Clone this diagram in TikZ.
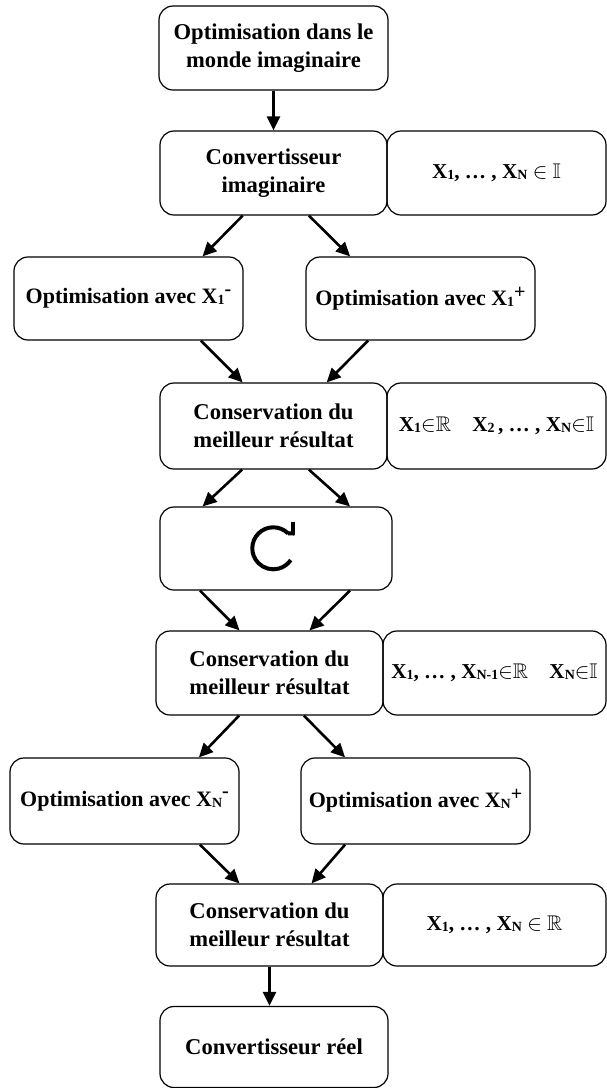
\documentclass[tikz,border=0pt]{standalone}
\usepackage{amssymb}
\usepackage{fontspec}
\setmainfont{Liberation Serif}
\usetikzlibrary{arrows.meta}
\newcommand\Xv[1]{X\raisebox{-0.4pt}{\fontsize{7}{7}\selectfont #1}}
\newcommand\supm{\raisebox{4.2pt}{\fontsize{10}{10}\selectfont -}}
\newcommand\supp{\raisebox{3.6pt}{\fontsize{10}{10}\selectfont +}}
\tikzset{
  box/.style={draw, rounded corners=7pt, line width=0.6pt, align=center, inner sep=0pt, font=\bfseries\fontsize{11.3}{14}\selectfont},
  rbox/.style={box, font=\bfseries\fontsize{10.6}{13}\selectfont},
  arr/.style={line width=1.3pt, -{Triangle[length=7pt,width=6.5pt]}},
}
\begin{document}
\begin{tikzpicture}[x=0.5pt,y=-0.5pt]
\useasboundingbox (0,0) rectangle (606,1088);
% nodes
\node[box, minimum width=114.5pt, minimum height=42pt] (A) at (273.5,48) {Optimisation dans le\\monde imaginaire};
\node[box, minimum width=113.5pt, minimum height=42pt] (B) at (273.5,173) {Convertisseur\\imaginaire};
\node[rbox, minimum width=109.5pt, minimum height=42pt] (Br) at (496.5,173) {\Xv{1}, \dots\ , \Xv{N} $\in$ $\mathbb{I}$};
\node[box, font=\bfseries\fontsize{11}{13}\selectfont, minimum width=114.5pt, minimum height=41.5pt] (C1) at (128.5,298.5) {Optimisation avec \Xv{1}\supm};
\node[box, font=\bfseries\fontsize{11}{13}\selectfont, minimum width=114.5pt, minimum height=41.5pt] (C2) at (420.5,298.5) {Optimisation avec \Xv{1}\supp};
\node[box, minimum width=113.5pt, minimum height=43pt] (D) at (273.5,426) {Conservation du\\meilleur résultat};
\node[rbox, minimum width=109.5pt, minimum height=43pt] (Dr) at (496.5,426) {\Xv{1}$\in$$\mathbb{R}$\quad \Xv{2}\,, \dots\ , \Xv{N}$\in$$\mathbb{I}$};
\node[box, minimum width=116pt, minimum height=41.5pt] (E) at (276,548.5) {};
\node[box, minimum width=113.5pt, minimum height=42pt] (F) at (269.5,673) {Conservation du\\meilleur résultat};
\node[rbox, minimum width=111.5pt, minimum height=42pt] (Fr) at (494.5,673) {\Xv{1}, \dots\ , \Xv{N-1}$\in$$\mathbb{R}$\quad \Xv{N}$\in$$\mathbb{I}$};
\node[box, font=\bfseries\fontsize{11}{13}\selectfont, minimum width=114.5pt, minimum height=43pt] (G1) at (124.5,801) {Optimisation avec \Xv{N}\supm};
\node[box, font=\bfseries\fontsize{11}{13}\selectfont, minimum width=114.5pt, minimum height=43pt] (G2) at (415.5,801) {Optimisation avec \Xv{N}\supp};
\node[box, minimum width=113.5pt, minimum height=41pt] (H) at (269.5,925) {Conservation du\\meilleur résultat};
\node[rbox, minimum width=111.5pt, minimum height=41pt] (Hr) at (494.5,925) {\Xv{1}, \dots\ , \Xv{N} $\in$ $\mathbb{R}$};
\node[box, minimum width=114pt, minimum height=40.5pt] (I) at (274,1047) {Convertisseur réel};
% loop icon
\coordinate (ic) at (273.3,548.3);
\draw[line width=2pt] ([shift={(45:10.5pt)}]ic) arc[start angle=45, end angle=326, radius=10.5pt];
\draw[line width=2pt] ([shift={(45:10.5pt)}]ic) -- (294.3,533.5);
\draw[line width=2pt] (293.3,521.5) -- (293.3,535);
% connectors
\draw[arr] (A.south) -- (B.north);
\draw[arr] ([xshift=-15.4pt]B.south) -- ([xshift=37pt]C1.north);
\draw[arr] ([xshift=17.7pt]B.south) -- ([xshift=-35.2pt]C2.north);
\draw[arr] ([xshift=36.2pt]C1.south) -- ([xshift=-15.4pt]D.north);
\draw[arr] ([xshift=-26.2pt]C2.south) -- ([xshift=26.6pt]D.north);
\draw[arr] ([xshift=-15.7pt]D.south) -- ([xshift=-36.7pt]E.north);
\draw[arr] ([xshift=17.7pt]D.south) -- ([xshift=37pt]E.north);
\draw[arr] ([xshift=-38pt]E.south) -- ([xshift=-15pt]F.north);
\draw[arr] ([xshift=37pt]E.south) -- ([xshift=20pt]F.north);
\draw[arr] ([xshift=-15.2pt]F.south) -- ([xshift=37.2pt]G1.north);
\draw[arr] ([xshift=17.2pt]F.south) -- ([xshift=-35.2pt]G2.north);
\draw[arr] ([xshift=37.7pt]G1.south) -- ([xshift=-15pt]H.north);
\draw[arr] ([xshift=-35.2pt]G2.south) -- ([xshift=21pt]H.north);
\draw[arr] (H.south) -- (H.south |- I.north);
\end{tikzpicture}
\end{document}
